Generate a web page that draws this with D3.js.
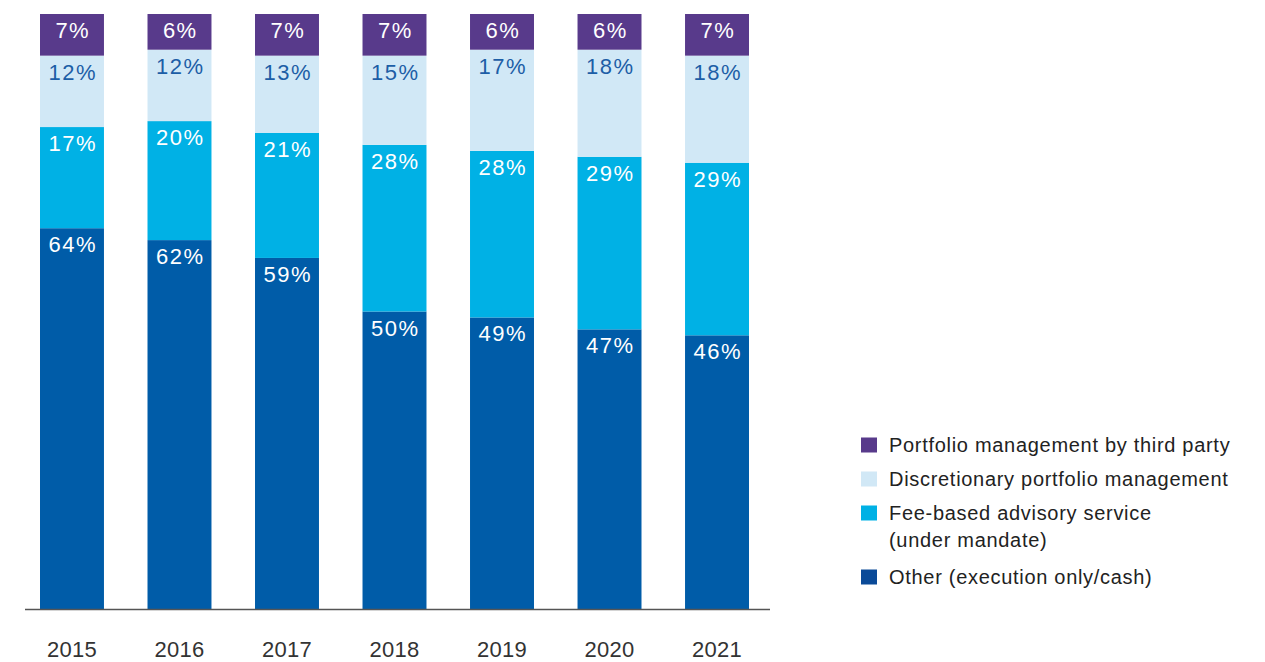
<!DOCTYPE html>
<html>
<head>
<meta charset="utf-8">
<script src="https://cdn.jsdelivr.net/npm/d3@7"></script>
<style>
  html, body { margin: 0; padding: 0; background: #fff; }
  svg { display: block; font-family: "Liberation Sans", Arial, sans-serif; }
</style>
</head>
<body>
<div id="chart"></div>
<script>
const years = ["2015", "2016", "2017", "2018", "2019", "2020", "2021"];
const other = [64, 62, 59, 50, 49, 47, 46];
const feeBased = [17, 20, 21, 28, 28, 29, 29];
const discretionary = [12, 12, 13, 15, 17, 18, 18];
const thirdParty = [7, 6, 7, 7, 6, 6, 7];

const seriesNames = [
    "Other (execution only/cash)",
    "Fee-based advisory service (under mandate)",
    "Discretionary portfolio management",
    "Portfolio management by third party"
];

const width = 1265, height = 662;

// stack order from bottom to top
const keys = ["other", "fee", "disc", "third"];
const colors = { other: "#005ca8", fee: "#00b1e5", disc: "#d1e8f6", third: "#583a8b" };
const labelColors = { other: "#ffffff", fee: "#ffffff", disc: "#1d5ea6", third: "#ffffff" };

const table = years.map((y, i) => ({
    year: y, other: other[i], fee: feeBased[i], disc: discretionary[i], third: thirdParty[i]
}));

const stacked = d3.stack().keys(keys)(table);

const xs = d3.scaleBand()
    .domain(years)
    .range([40, 749])
    .paddingInner(0.405)
    .paddingOuter(0);

const y = d3.scaleLinear().domain([0, 100]).range([609, 14]);

const svg = d3.select("#chart").append("svg")
    .attr("width", width)
    .attr("height", height);

const layers = svg.append("g").selectAll("g")
    .data(stacked)
    .join("g")
    .attr("fill", d => colors[d.key]);

layers.selectAll("rect")
    .data(d => d.map(v => Object.assign(v, { key: d.key })))
    .join("rect")
    .attr("x", d => xs(d.data.year))
    .attr("y", d => y(d[1]))
    .attr("width", xs.bandwidth())
    .attr("height", d => y(d[0]) - y(d[1]));

// value labels near top of each segment
layers.selectAll("text")
    .data(d => d)
    .join("text")
    .attr("x", d => xs(d.data.year) + xs.bandwidth() / 2 + 0.8)
    .attr("y", d => y(d[1]) + 24)
    .attr("text-anchor", "middle")
    .attr("font-size", 22)
    .attr("letter-spacing", 1.5)
    .attr("fill", d => labelColors[d.key])
    .text(d => (d[1] - d[0]) + "%");

// baseline
svg.append("line")
    .attr("x1", 25).attr("x2", 770)
    .attr("y1", 609.5).attr("y2", 609.5)
    .attr("stroke", "#555").attr("stroke-width", 1.5);

// year labels
const xAxis = d3.axisBottom(xs).tickSize(0).tickPadding(0);
const axisG = svg.append("g").attr("transform", "translate(0,609)").call(xAxis);
axisG.select(".domain").remove();
axisG.selectAll("text")
    .attr("dy", null)
    .attr("y", 48)
    .attr("font-size", 22)
    .attr("letter-spacing", 0.3)
    .attr("font-family", "Liberation Sans, Arial, sans-serif")
    .attr("fill", "#333");

// legend (top to bottom)
const legendItems = [
    { key: "third", lines: [seriesNames[3]], y: 445 },
    { key: "disc", lines: [seriesNames[2]], y: 479 },
    { key: "fee", lines: ["Fee-based advisory service", "(under mandate)"], y: 513 },
    { key: "other", lines: [seriesNames[0]], y: 577 }
];

const legend = svg.append("g");
const li = legend.selectAll("g")
    .data(legendItems)
    .join("g")
    .attr("transform", d => `translate(861,${d.y})`);

li.append("rect")
    .attr("x", 0).attr("y", -7.5)
    .attr("width", 16).attr("height", 15)
    .attr("fill", d => d.key === "other" ? "#0a4a98" : colors[d.key]);

li.append("text")
    .attr("x", 28)
    .attr("y", 7)
    .attr("font-size", 20)
    .attr("letter-spacing", 0.7)
    .attr("fill", "#222")
    .selectAll("tspan")
    .data(d => d.lines)
    .join("tspan")
    .attr("x", 28)
    .attr("dy", (d, i) => i === 0 ? 0 : 27)
    .text(d => d);
</script>
</body>
</html>
